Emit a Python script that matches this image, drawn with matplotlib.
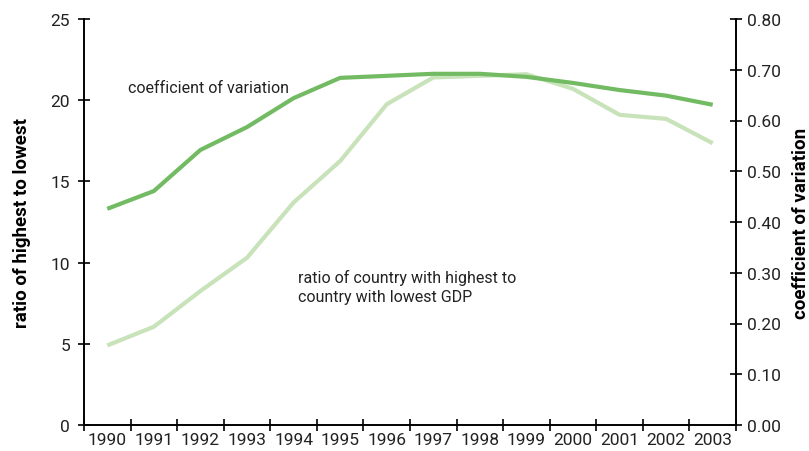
import numpy as np
import matplotlib.pyplot as plt

years = ['1990', '1991', '1992', '1993', '1994', '1995', '1996',
         '1997', '1998', '1999', '2000', '2001', '2002', '2003']
ratio = [4.9, 6.05, 8.25, 10.3, 13.7, 16.25, 19.75,
         21.4, 21.5, 21.6, 20.7, 19.1, 18.85, 17.35]
coef_var = [0.426, 0.461, 0.542, 0.587, 0.644, 0.684, 0.688,
            0.692, 0.692, 0.686, 0.674, 0.660, 0.649, 0.631]

dark = '#72bb62'
light = '#c8e2ba'

plt.rcParams['font.family'] = ['Roboto', 'DejaVu Sans']

fig = plt.figure(figsize=(8.09, 4.52), dpi=100)
ax = fig.add_axes([84 / 809, 26 / 452, 652 / 809, 406 / 452])
ax2 = ax.twinx()

x = np.arange(len(years))
ax.plot(x, ratio, color=light, lw=3, solid_capstyle='butt', zorder=2)
ax2.plot(x, coef_var, color=dark, lw=3, solid_capstyle='butt', zorder=3)

ax.set_xlim(-0.5, len(years) - 0.5)
ax.set_ylim(0, 25)
ax2.set_ylim(0, 0.8)
ax.set_yticks(np.arange(0, 26, 5))
ax2.set_yticks(np.arange(0, 0.81, 0.1))
ax2.set_yticklabels([f'{v:.2f}' for v in np.arange(0, 0.81, 0.1)])

# major ticks sit between the years, labels sit on the minor ticks
ax.set_xticks(np.arange(-0.5, len(years), 1))
ax.set_xticklabels([])
ax.set_xticks(x, minor=True)
ax.set_xticklabels(years, minor=True)
ax.tick_params(axis='x', which='minor', length=0, pad=5)

for a in (ax, ax2):
    a.spines['top'].set_visible(False)
    a.tick_params(which='major', direction='inout', length=8, width=1.2,
                  labelsize=12.5, labelcolor='#222222')
    for s in a.spines.values():
        s.set_linewidth(1.2)
ax.tick_params(axis='x', which='minor', labelsize=12.5, labelcolor='#222222')
ax.tick_params(axis='y', pad=6)
ax2.tick_params(axis='y', pad=4)

ax.set_ylabel('ratio of highest to lowest', fontsize=13.5, fontweight='bold', labelpad=14)
ax2.set_ylabel('coefficient of variation', fontsize=13.5, fontweight='bold', labelpad=8)

ax.text(0.45, 20.8, 'coefficient of variation', fontsize=11.5, ha='left',
        va='center', color='#222222')
ax.text(4.1, 8.55, 'ratio of country with highest to\ncountry with lowest GDP',
        fontsize=11.5, ha='left', va='center', linespacing=1.35, color='#222222')

fig.savefig('out.png', dpi=100)
